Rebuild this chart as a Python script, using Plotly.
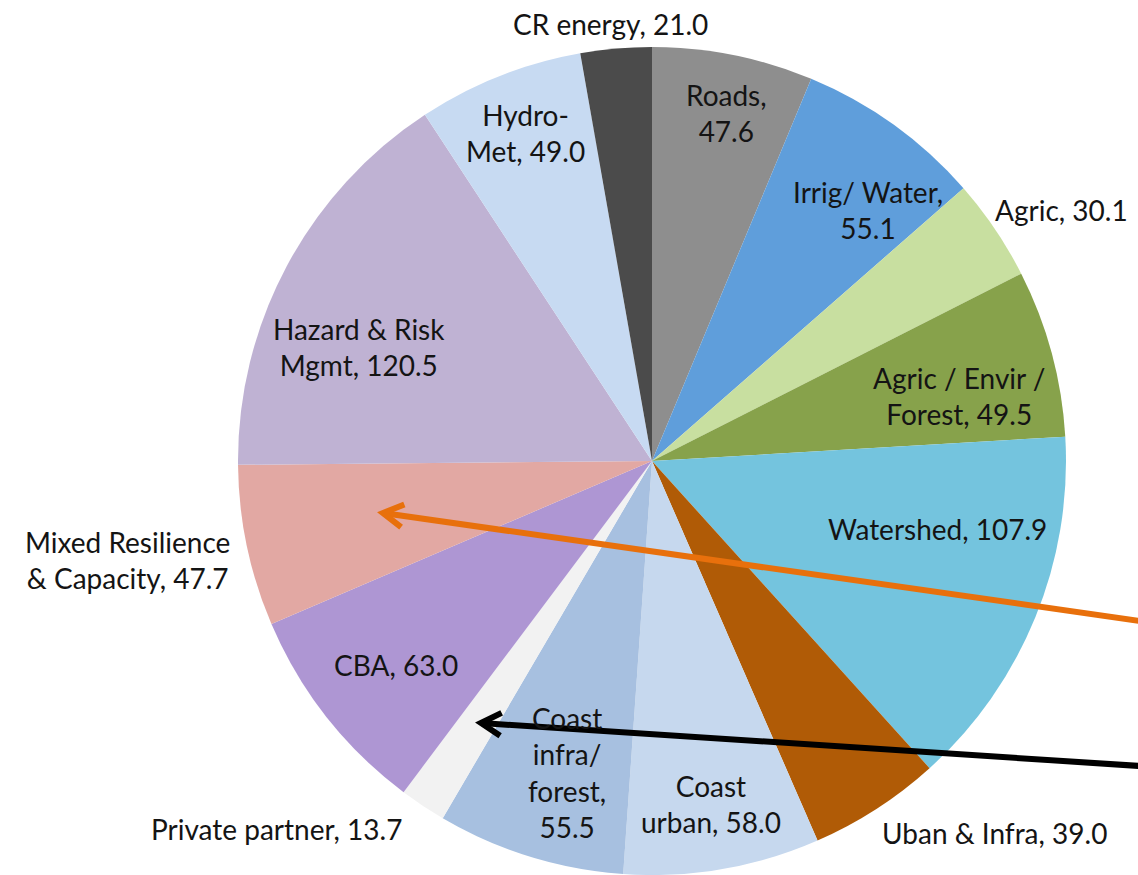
import numpy as np
import plotly.graph_objects as go

# Climate-resilience investment by sector (clockwise from 12 o'clock)
categories = [
    "Roads", "Irrig/ Water", "Agric", "Agric / Envir / Forest", "Watershed",
    "Uban & Infra", "Coast urban", "Coast infra/forest", "Private partner",
    "CBA", "Mixed Resilience & Capacity", "Hazard & Risk Mgmt", "Hydro-Met",
    "CR energy",
]
values = [47.6, 55.1, 30.1, 49.5, 107.9, 39.0, 58.0, 55.5, 13.7,
          63.0, 47.7, 120.5, 49.0, 21.0]

# How each name is wrapped when written next to its slice
display_names = [
    "Roads,<br>", "Irrig/ Water,<br>", "Agric, ", "Agric / Envir /<br>Forest, ",
    "Watershed, ", "Uban & Infra, ", "Coast<br>urban, ", "Coast<br>infra/<br>forest,<br>",
    "Private partner, ", "CBA, ", "Mixed Resilience<br>& Capacity, ",
    "Hazard & Risk<br>Mgmt, ", "Hydro-<br>Met, ", "CR energy, ",
]

colors = [
    "#8e8e8e", "#5f9edb", "#c8dfa0", "#87a24b", "#74c4de", "#b05b06",
    "#c6d8ee", "#a7c0e0", "#f2f2f2", "#ae96d3", "#e2a8a3", "#bfb2d3",
    "#c7daf2", "#4b4b4b",
]

# Label placement: fraction of radius and angular nudge (degrees)
label_radius = [0.86, 0.80, 1.16, 0.76, 0.71, 1.22, 0.84, 0.78, 1.27,
                0.79, 1.29, 0.76, 0.85, 1.06]
label_shift = [0.8, 5.0, 2.5, 3.3, -8.8, -9.8, 0.0, -2.0, 11.9,
               -0.4, 1.2, -6.9, 0.6, -0.5]

W, H = 1138, 875
cx, cy, R = 652, 461, 414  # pie centre and radius in pixels

fig = go.Figure(go.Pie(
    labels=categories,
    values=values,
    sort=False,
    direction="clockwise",
    rotation=0,
    marker=dict(colors=colors, line=dict(width=0)),
    textinfo="none",
    hoverinfo="label+value",
    domain=dict(x=[(cx - R) / W, (cx + R) / W], y=[0, 2 * R / H]),
    showlegend=False,
))

# Slice labels positioned from each slice's mid-angle
vals = np.array(values)
cum = np.cumsum(vals)
mid_deg = (cum - vals / 2) / vals.sum() * 360.0
annotations = []
for name, v, ang, fr, sh in zip(display_names, values, mid_deg, label_radius, label_shift):
    th = np.deg2rad(ang + sh)
    px = cx + fr * R * np.sin(th)
    py = cy - fr * R * np.cos(th)
    annotations.append(dict(
        x=px / W, y=1 - py / H, xref="paper", yref="paper",
        text=f"{name}{v:.1f}", showarrow=False, align="center",
        xanchor="center", yanchor="middle",
        font=dict(family="Lato, 'Open Sans', sans-serif", size=28, color="#141414"),
    ))

# Pointer arrows (tail at the right edge, open chevron at the tip)
def arrow_shapes(tail, tip, color, width=6, head=23, spread=30):
    tail = np.array(tail, float)
    tip = np.array(tip, float)
    back = (tail - tip) / np.linalg.norm(tail - tip)
    arms = []
    for s in (spread, -spread):
        a = np.deg2rad(s)
        rot = np.array([[np.cos(a), -np.sin(a)], [np.sin(a), np.cos(a)]])
        arms.append(tip + head * rot @ back)

    def P(p):
        return f"{p[0] / W:.5f},{1 - p[1] / H:.5f}"

    line = dict(type="line", xref="paper", yref="paper",
                x0=tail[0] / W, y0=1 - tail[1] / H, x1=tip[0] / W, y1=1 - tip[1] / H,
                line=dict(color=color, width=width))
    chevron = dict(type="path", xref="paper", yref="paper",
                   path=f"M{P(arms[0])} L{P(tip)} L{P(arms[1])}",
                   line=dict(color=color, width=width))
    return [line, chevron]

shapes = arrow_shapes((1140, 621), (383, 513), "#e8700c") + \
         arrow_shapes((1140, 766), (481, 723), "#000000")

fig.update_layout(
    width=W, height=H,
    margin=dict(l=0, r=0, t=0, b=0),
    paper_bgcolor="white",
    plot_bgcolor="white",
    annotations=annotations,
    shapes=shapes,
)

fig.write_html("out.html")
